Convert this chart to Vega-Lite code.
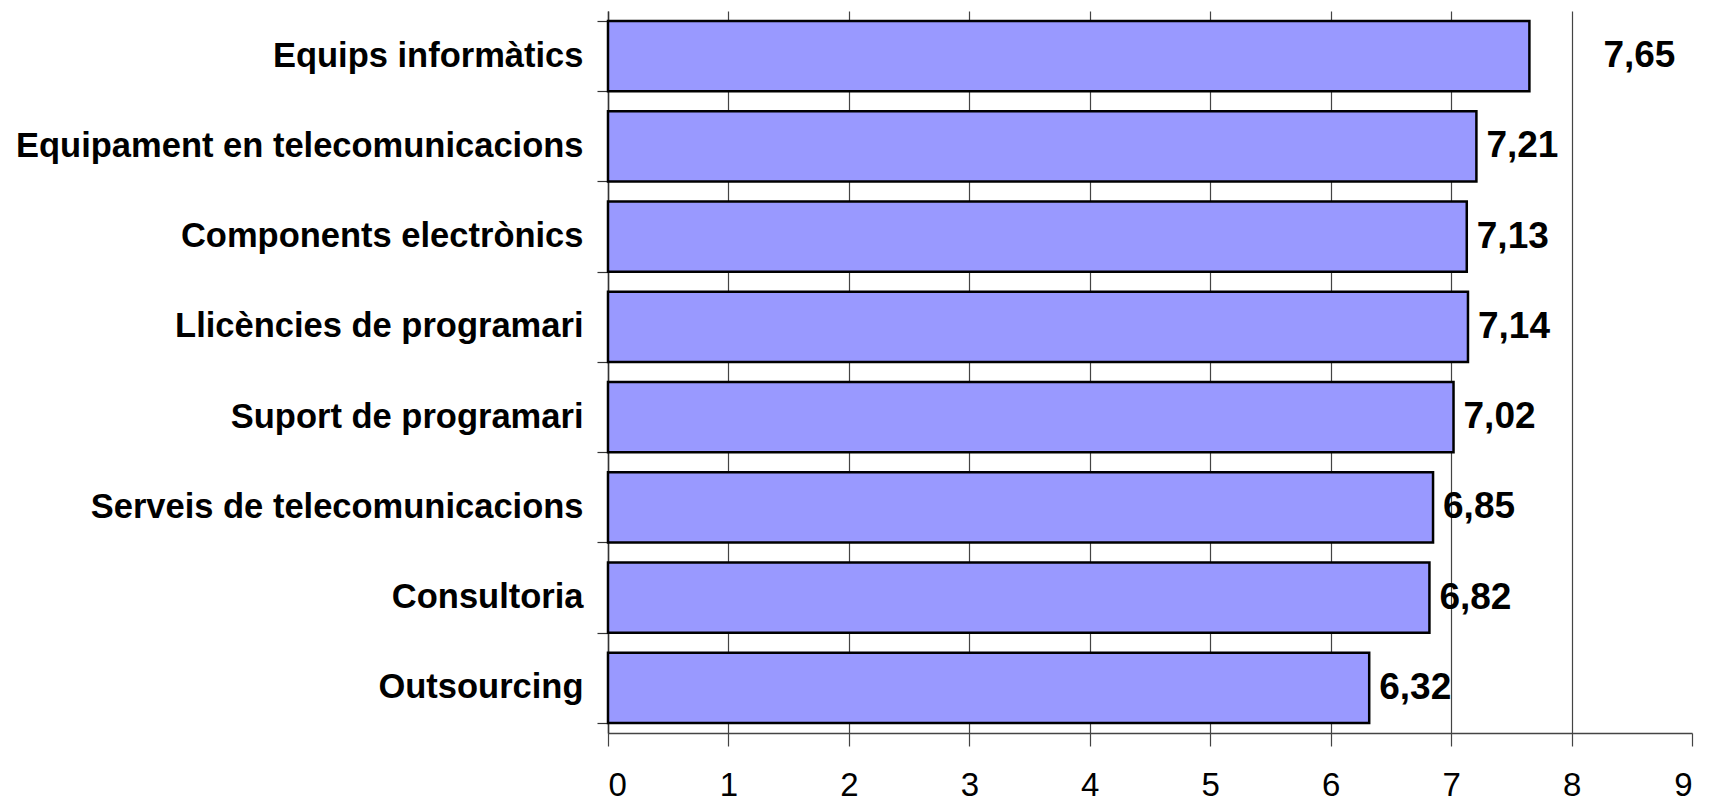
{
  "$schema": "https://vega.github.io/schema/vega-lite/v6.json",
  "width": 1084,
  "height": 722,
  "autosize": {"type": "none"},
  "padding": {"left": 608, "top": 11, "right": 18, "bottom": 72},
  "background": "white",
  "config": {
    "view": {"stroke": null},
    "font": "Liberation Sans",
    "locale": {"number": {"decimal": ",", "thousands": ".", "grouping": [3], "currency": ["", " €"]}}
  },
  "data": {
    "values": [
      {"category": "Equips informàtics", "value": 7.65},
      {"category": "Equipament en telecomunicacions", "value": 7.21},
      {"category": "Components electrònics", "value": 7.13},
      {"category": "Llicències de programari", "value": 7.14},
      {"category": "Suport de programari", "value": 7.02},
      {"category": "Serveis de telecomunicacions", "value": 6.85},
      {"category": "Consultoria", "value": 6.82},
      {"category": "Outsourcing", "value": 6.32}
    ]
  },
  "encoding": {
    "y": {
      "field": "category",
      "type": "nominal",
      "sort": null,
      "scale": {"paddingInner": 0.224, "paddingOuter": 0.112},
      "axis": {
        "title": null,
        "tickBand": "extent",
        "tickSize": 11,
        "tickColor": "#333",
        "tickWidth": 1.2,
        "domainColor": "#333",
        "domainWidth": 1.5,
        "labelPadding": 14,
        "labelFont": "Liberation Sans",
        "labelFontSize": 34.5,
        "labelFontWeight": "bold",
        "labelColor": "black",
        "labelLimit": 700,
        "grid": false
      }
    }
  },
  "layer": [
    {
      "mark": {"type": "bar", "fill": "#9999FF", "stroke": "black", "strokeWidth": 2.5},
      "encoding": {
        "x": {
          "field": "value",
          "type": "quantitative",
          "scale": {"domain": [0, 9], "nice": false},
          "axis": {
            "title": null,
            "values": [0, 1, 2, 3, 4, 5, 6, 7, 8, 9],
            "grid": true,
            "gridColor": "#444",
            "gridWidth": 1.2,
            "gridOpacity": {"condition": {"test": "datum.value === 9", "value": 0}, "value": 1},
            "domainColor": "#444",
            "domainWidth": 1.5,
            "tickColor": "#444",
            "tickWidth": 1.2,
            "tickSize": 13,
            "labelFont": "Liberation Sans",
            "labelFontSize": 33,
            "labelColor": "black",
            "labelPadding": 23,
            "format": "d"
          }
        }
      }
    },
    {
      "transform": [{"filter": "datum.value < 7.5"}],
      "mark": {"type": "text", "align": "left", "baseline": "middle", "dx": 10, "font": "Liberation Sans", "fontWeight": "bold", "fontSize": 37, "color": "black"},
      "encoding": {
        "x": {"field": "value", "type": "quantitative"},
        "text": {"field": "value", "type": "quantitative", "format": ".2f"}
      }
    },
    {
      "transform": [{"filter": "datum.value >= 7.5"}],
      "mark": {"type": "text", "align": "left", "baseline": "middle", "dx": 74, "font": "Liberation Sans", "fontWeight": "bold", "fontSize": 37, "color": "black"},
      "encoding": {
        "x": {"field": "value", "type": "quantitative"},
        "text": {"field": "value", "type": "quantitative", "format": ".2f"}
      }
    }
  ]
}
